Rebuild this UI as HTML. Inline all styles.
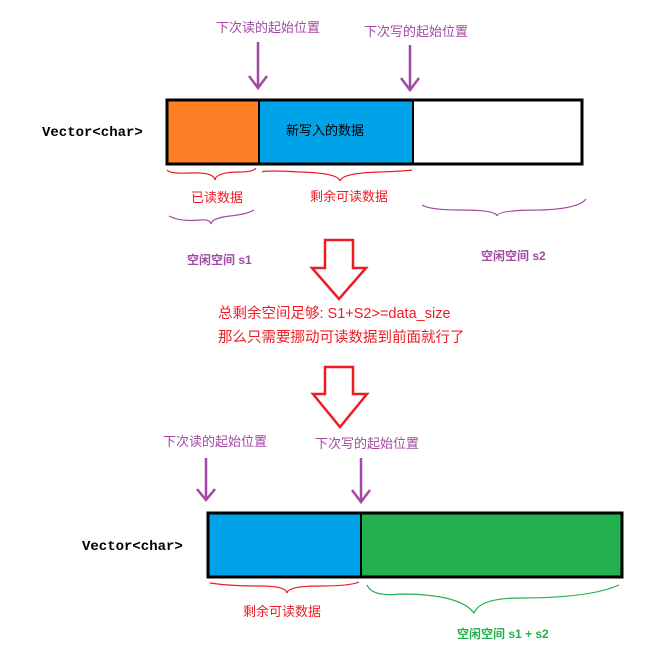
<!DOCTYPE html>
<html><head><meta charset="utf-8"><style>body{margin:0;background:#fff}svg{display:block}</style></head><body>
<svg width="645" height="651" viewBox="0 0 645 651" xmlns="http://www.w3.org/2000/svg" font-family="Liberation Sans, Noto Sans CJK SC, sans-serif">
<!-- top -->
<text x="216" y="32" font-size="13" fill="#a349a4">下次读的起始位置</text>
<text x="364" y="36" font-size="13" fill="#a349a4">下次写的起始位置</text>
<g stroke="#a349a4" stroke-width="2.5" fill="none">
<path d="M258 42V88M249 76L258 88L267 76"/>
<path d="M410 45V90M401 78L410 90L419 78"/>
</g>
<rect x="167" y="100" width="92" height="64" fill="#ff7f27"/>
<rect x="259" y="100" width="154" height="64" fill="#00a2e8"/>
<rect x="167" y="100" width="415" height="64" fill="none" stroke="#000" stroke-width="3"/>
<line x1="259" y1="100" x2="259" y2="164" stroke="#000" stroke-width="2"/>
<line x1="413" y1="100" x2="413" y2="164" stroke="#000" stroke-width="2"/>
<text x="286" y="135" font-size="13" fill="#000">新写入的数据</text>
<text x="42" y="136" font-size="14" font-weight="bold" font-family="Liberation Mono, monospace">Vector&lt;char&gt;</text>
<g fill="none" stroke-width="1.2">
<path d="M167 170Q170 174 190 173Q214 172 215 180Q216 172 240 172Q253 172 256 168" stroke="#ed1c24"/>
<path d="M262 172Q266 170 300 172Q338 173 340 181Q342 173 380 172Q405 171 412 170" stroke="#ed1c24"/>
<path d="M169 216Q180 222 200 220Q210 219 211 224Q212 218 230 216Q248 214 254 210" stroke="#a349a4"/>
<path d="M422 205Q430 210 460 210Q496 210 497 216Q498 210 540 210Q578 209 586 199" stroke="#a349a4"/>
</g>
<text x="191" y="202" font-size="13" fill="#ed1c24">已读数据</text>
<text x="310" y="201" font-size="13" fill="#ed1c24">剩余可读数据</text>
<text x="187" y="264" font-size="12" font-weight="bold" fill="#a349a4">空闲空间 s1</text>
<text x="481" y="260" font-size="12" font-weight="bold" fill="#a349a4">空闲空间 s2</text>
<!-- red arrows -->
<path d="M325 240H353V268H366L339 299L312 268H325Z" fill="#fff" stroke="#ed1c24" stroke-width="2.5"/>
<path d="M325 367H353V394H367L340 427L313 394H325Z" fill="#fff" stroke="#ed1c24" stroke-width="2.5"/>
<text x="218" y="318" font-size="14.5" fill="#ed1c24">总剩余空间足够: S1+S2&gt;=data_size</text>
<text x="218" y="342" font-size="14.5" fill="#ed1c24">那么只需要挪动可读数据到前面就行了</text>
<!-- bottom -->
<text x="163" y="446" font-size="13" fill="#a349a4">下次读的起始位置</text>
<text x="315" y="448" font-size="13" fill="#a349a4">下次写的起始位置</text>
<g stroke="#a349a4" stroke-width="2.5" fill="none">
<path d="M206 458V500M197 489L206 500L215 489"/>
<path d="M361 458V502M352 490L361 502L370 490"/>
</g>
<rect x="208" y="513" width="153" height="64" fill="#00a2e8"/>
<rect x="361" y="513" width="261" height="64" fill="#22b14c"/>
<rect x="208" y="513" width="414" height="64" fill="none" stroke="#000" stroke-width="3"/>
<line x1="361" y1="513" x2="361" y2="577" stroke="#000" stroke-width="2"/>
<text x="82" y="550" font-size="14" font-weight="bold" font-family="Liberation Mono, monospace">Vector&lt;char&gt;</text>
<g fill="none" stroke-width="1.2">
<path d="M210 583Q230 586 260 586Q286 586 287 593Q288 586 320 586Q350 586 359 582" stroke="#ed1c24"/>
<path d="M367 585Q372 597 400 594Q460 594 474 613Q480 598 520 598Q590 598 619 585" stroke="#22b14c"/>
</g>
<text x="243" y="616" font-size="13" fill="#ed1c24">剩余可读数据</text>
<text x="457" y="638" font-size="12" font-weight="bold" fill="#22b14c">空闲空间 s1 + s2</text>
</svg>
</body></html>
